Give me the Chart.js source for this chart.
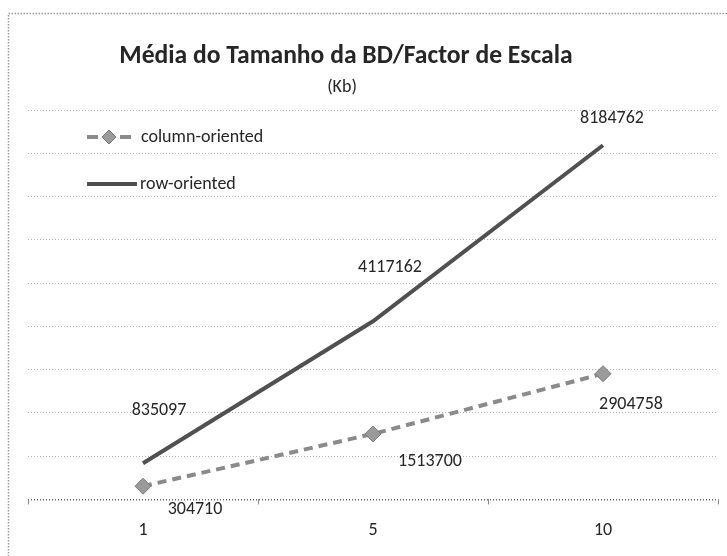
<!DOCTYPE html>
<html><head><meta charset="utf-8">
<script src="https://cdn.jsdelivr.net/npm/chart.js@4.4.0/dist/chart.umd.min.js"></script>
<style>html,body{margin:0;padding:0;background:#fff;}#wrap{width:727px;height:556px;position:relative;}</style>
</head><body><div id="wrap"><canvas id="c" width="727" height="556"></canvas></div>
<script>
const categories = ['1', '5', '10'];
const columnOriented = [304710, 1513700, 2904758];
const rowOriented = [835097, 4117162, 8184762];
const seriesNames = ['column-oriented', 'row-oriented'];
const chartTitle = 'Média do Tamanho da BD/Factor de Escala';
const chartSubtitle = '(Kb)';
const yMin = 0, yMax = 9000000, yStep = 1000000;

const FONT = 'Carlito, Lato, "Open Sans", sans-serif';
const TEXT = '#262626';
// label offsets (style only): [dx, dy] relative to each point
const labelOffsets = [
  [[52, 23], [57, 28], [28, 31]],
  [[16, -53], [17, -54], [9, -27]]
];

const decorPlugin = {
  id: 'decor',
  beforeDraw(chart) {
    const ctx = chart.ctx;
    ctx.save();
    ctx.fillStyle = '#fff';
    ctx.fillRect(0, 0, chart.width, chart.height);
    ctx.strokeStyle = '#9a9a9a';
    ctx.lineWidth = 1.5;
    ctx.setLineDash([1.5, 1.5]);
    ctx.strokeRect(8.5, 13.5, chart.width + 20, chart.height + 20);
    ctx.restore();
  },
  afterDraw(chart) {
    const ctx = chart.ctx;
    ctx.save();
    ctx.fillStyle = TEXT;
    ctx.textAlign = 'center';
    ctx.textBaseline = 'middle';
    ctx.font = 'bold 25.6px ' + FONT;
    ctx.fillText(chartTitle, 346, 57);
    ctx.font = '18px ' + FONT;
    ctx.fillText(chartSubtitle, 342, 87);
    // legend
    const ds = chart.data.datasets;
    ctx.textAlign = 'left';
    ctx.font = '18px ' + FONT;
    let y = 137;
    ctx.strokeStyle = ds[0].borderColor;
    ctx.lineWidth = 4;
    ctx.beginPath();
    ctx.moveTo(87, y); ctx.lineTo(98, y);
    ctx.moveTo(120, y); ctx.lineTo(131, y);
    ctx.stroke();
    ctx.fillStyle = ds[0].pointBackgroundColor;
    ctx.strokeStyle = ds[0].pointBorderColor;
    ctx.lineWidth = 1;
    ctx.beginPath();
    ctx.moveTo(109, y - 7); ctx.lineTo(116, y); ctx.lineTo(109, y + 7); ctx.lineTo(102, y); ctx.closePath();
    ctx.fill(); ctx.stroke();
    ctx.fillStyle = TEXT;
    ctx.fillText(ds[0].label, 141, y);
    y = 184;
    ctx.strokeStyle = ds[1].borderColor;
    ctx.lineWidth = 4;
    ctx.beginPath();
    ctx.moveTo(87, y); ctx.lineTo(137, y);
    ctx.stroke();
    ctx.fillStyle = TEXT;
    ctx.fillText(ds[1].label, 140, y);
    ctx.restore();
  },
  afterDatasetsDraw(chart) {
    const ctx = chart.ctx;
    ctx.save();
    ctx.fillStyle = TEXT;
    ctx.font = '18px ' + FONT;
    ctx.textAlign = 'center';
    ctx.textBaseline = 'middle';
    chart.data.datasets.forEach((d, di) => {
      const meta = chart.getDatasetMeta(di);
      meta.data.forEach((pt, i) => {
        const off = labelOffsets[di][i];
        ctx.fillText(String(d.data[i]), pt.x + off[0], pt.y + off[1]);
      });
    });
    ctx.restore();
  }
};

new Chart(document.getElementById('c'), {
  type: 'line',
  data: {
    labels: categories,
    datasets: [
      {
        label: seriesNames[0],
        data: columnOriented,
        borderColor: '#8a8a8a',
        borderWidth: 4,
        borderDash: [9, 6],
        pointStyle: 'rectRot',
        pointRadius: 8,
        pointBackgroundColor: '#9a9a9a',
        pointBorderColor: '#7a7a7a',
        pointBorderWidth: 1,
        tension: 0
      },
      {
        label: seriesNames[1],
        data: rowOriented,
        borderColor: '#505050',
        borderWidth: 4,
        pointRadius: 0,
        tension: 0
      }
    ]
  },
  options: {
    responsive: false,
    animation: false,
    devicePixelRatio: 1,
    layout: { padding: { left: 28, right: 1, top: 110, bottom: 0 } },
    plugins: { legend: { display: false }, title: { display: false }, tooltip: { enabled: false } },
    scales: {
      x: {
        type: 'category',
        offset: true,
        afterFit: (s) => { s.paddingLeft = 0; s.paddingRight = 0; },
        grid: { display: true, drawOnChartArea: false, drawTicks: true, tickLength: 5, color: '#8a8a8a', offset: true },
        border: { display: false },
        ticks: { color: TEXT, font: { family: FONT, size: 18 }, padding: 15, maxRotation: 0 }
      },
      y: {
        min: yMin, max: yMax,
        ticks: { display: false, stepSize: yStep },
        grid: {
          drawTicks: false,
          color: (c) => (c.tick && c.tick.value === 0) ? '#6a6a6a' : '#b5b5b5',
          lineWidth: (c) => (c.tick && c.tick.value === 0) ? 1.5 : 1
        },
        border: { display: false, dash: [1, 2] }
      }
    }
  },
  plugins: [decorPlugin]
});
</script></body></html>
